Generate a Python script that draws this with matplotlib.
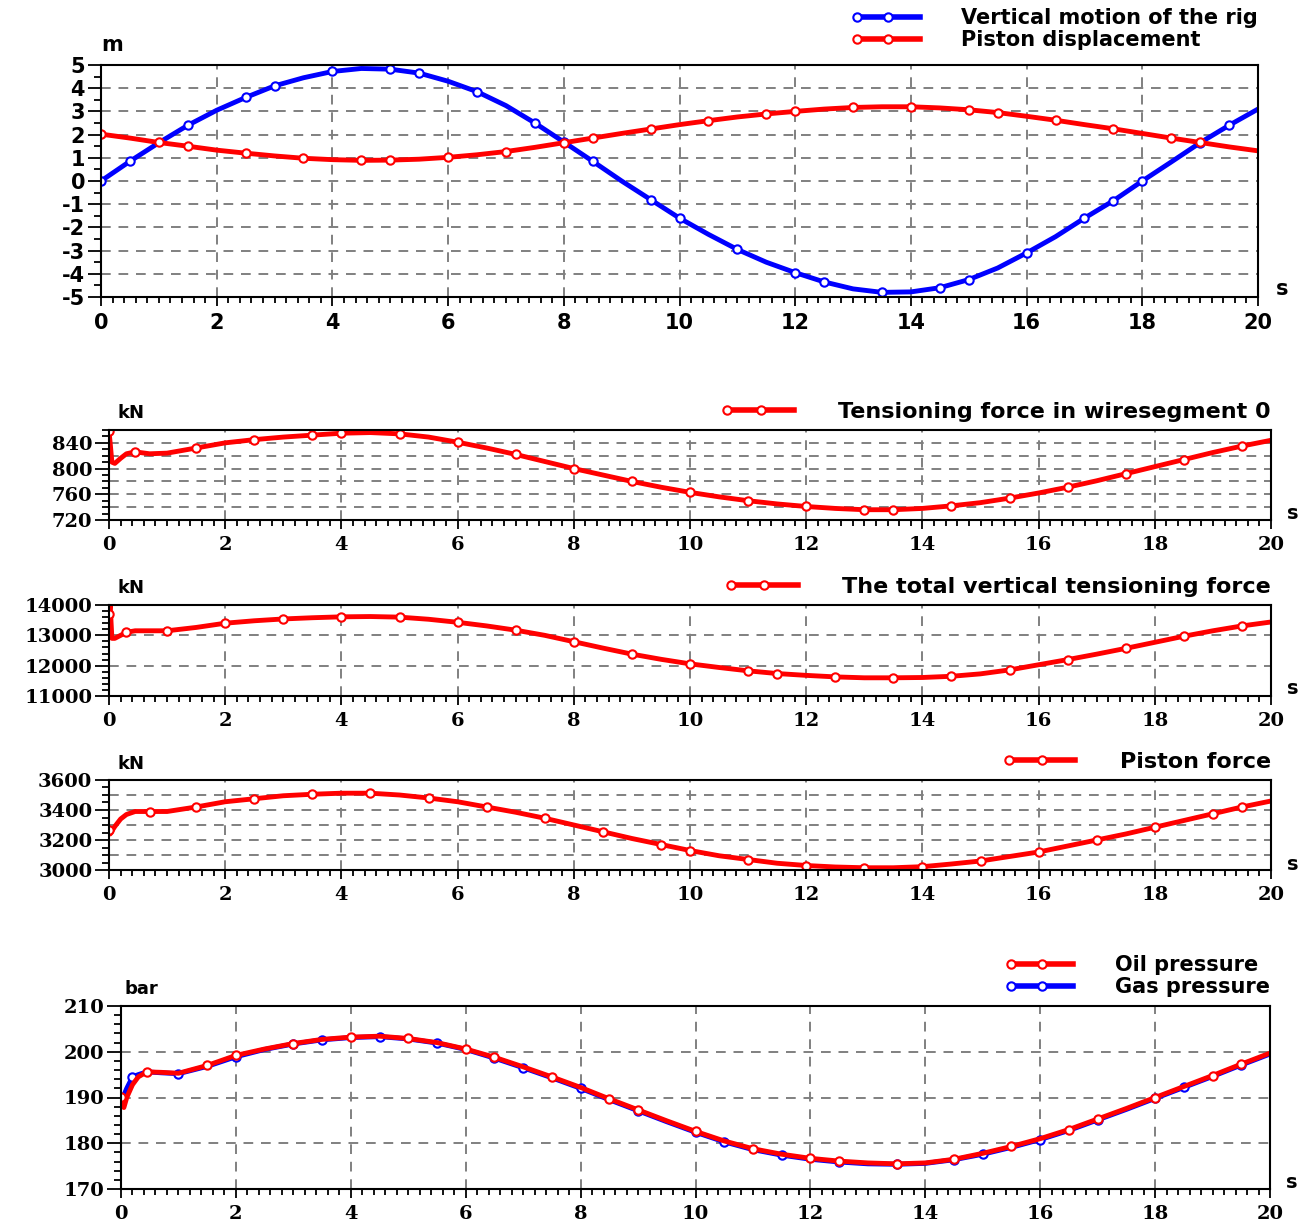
import numpy as np
import matplotlib
matplotlib.use("Agg")
import matplotlib.pyplot as plt
from matplotlib.lines import Line2D
from matplotlib.legend_handler import HandlerLine2D
from matplotlib.ticker import MultipleLocator

plt.rcParams["font.family"] = "DejaVu Sans"
plt.rcParams["font.weight"] = "bold"
plt.rcParams["axes.unicode_minus"] = False

# ---- top panel: rig motion / piston displacement (m) ----
t_rig = [0.0, 0.5, 1.0, 1.5, 2.0, 2.5, 3.0, 3.5, 4.0, 4.5, 5.0, 5.5, 6.0, 6.5,
         7.0, 7.5, 8.0, 8.5, 9.0, 9.5, 10.0, 10.5, 11.0, 11.5, 12.0, 12.5, 13.0,
         13.5, 14.0, 14.5, 15.0, 15.5, 16.0, 16.5, 17.0, 17.5, 18.0, 18.5, 19.0,
         19.5, 20.0]
rig_motion = [0.0, 0.85, 1.65, 2.4, 3.05, 3.6, 4.1, 4.45, 4.72, 4.85, 4.82, 4.65,
              4.3, 3.85, 3.25, 2.5, 1.68, 0.85, 0.0, -0.8, -1.6, -2.3, -2.95, -3.5,
              -3.95, -4.35, -4.65, -4.8, -4.78, -4.6, -4.25, -3.75, -3.1, -2.4, -1.6,
              -0.85, 0.0, 0.82, 1.65, 2.4, 3.1]
piston_disp = [2.02, 1.85, 1.66, 1.5, 1.33, 1.2, 1.08, 0.98, 0.92, 0.89, 0.9, 0.94,
               1.02, 1.13, 1.27, 1.45, 1.65, 1.85, 2.05, 2.24, 2.43, 2.6, 2.76, 2.89,
               3.0, 3.1, 3.17, 3.2, 3.2, 3.15, 3.07, 2.95, 2.79, 2.62, 2.43, 2.25,
               2.05, 1.85, 1.66, 1.47, 1.3]

# ---- lower panels share one time base (finer at the start transient) ----
t_sim = [0.0, 0.02, 0.05, 0.1, 0.2, 0.3, 0.45, 0.7, 1.0, 1.5, 2.0, 2.5, 3.0, 3.5,
         4.0, 4.5, 5.0, 5.5, 6.0, 6.5, 7.0, 7.5, 8.0, 8.5, 9.0, 9.5, 10.0, 10.5,
         11.0, 11.5, 12.0, 12.5, 13.0, 13.5, 14.0, 14.5, 15.0, 15.5, 16.0, 16.5,
         17.0, 17.5, 18.0, 18.5, 19.0, 19.5, 20.0]
wire_tension = [858, 840, 810, 808, 816, 823, 826, 823, 824, 832, 840, 845, 849, 852,
                855, 856, 854, 849, 841, 832, 822, 811, 800, 790, 780, 771, 763, 756,
                750, 745, 741, 738, 736, 736, 738, 742, 747, 754, 762, 771, 781, 792,
                803, 814, 825, 835, 844]
total_tension = [13700, 14000, 12900, 12900, 13000, 13100, 13150, 13150, 13150,
                 13260, 13400, 13480, 13540, 13580, 13610, 13620, 13600, 13530,
                 13430, 13310, 13170, 13000, 12790, 12580, 12380, 12210, 12060,
                 11940, 11830, 11740, 11680, 11630, 11600, 11600, 11610, 11650,
                 11730, 11860, 12030, 12200, 12380, 12570, 12770, 12970, 13150,
                 13310, 13440]
piston_force = [3270, 3240, 3260, 3290, 3340, 3370, 3390, 3390, 3390, 3420, 3455,
                3475, 3495, 3505, 3512, 3512, 3500, 3480, 3455, 3420, 3385, 3345,
                3300, 3255, 3210, 3170, 3130, 3095, 3070, 3045, 3030, 3020, 3015,
                3015, 3022, 3040, 3060, 3090, 3120, 3160, 3200, 3240, 3285, 3330,
                3375, 3420, 3460]
oil_pressure = [190.2, 188.5, 187.8, 190.0, 192.8, 194.5, 195.6, 195.5, 195.3, 197.0,
                199.2, 200.6, 201.8, 202.7, 203.2, 203.4, 202.9, 202.0, 200.6, 198.8,
                196.7, 194.5, 192.2, 189.7, 187.3, 184.9, 182.6, 180.5, 178.8, 177.6,
                176.7, 176.1, 175.7, 175.5, 175.7, 176.5, 177.8, 179.3, 181.0, 183.0,
                185.3, 187.6, 190.0, 192.4, 194.8, 197.3, 199.7]
gas_pressure = [189.0, 190.2, 190.5, 192.0, 194.5, 195.0, 195.6, 195.4, 195.2, 196.8,
                198.9, 200.5, 201.7, 202.6, 203.1, 203.3, 202.8, 201.9, 200.5, 198.6,
                196.5, 194.3, 192.0, 189.5, 187.1, 184.7, 182.4, 180.3, 178.6, 177.4,
                176.5, 175.9, 175.5, 175.4, 175.6, 176.4, 177.6, 179.1, 180.8, 182.8,
                185.1, 187.4, 189.8, 192.2, 194.6, 197.1, 199.5]

W, H = 1314, 1222
fig = plt.figure(figsize=(W / 100, H / 100), dpi=100)


def px(x, y):
    return x / W, 1 - y / H


def add_ax(left, top, right, bottom):
    return fig.add_axes([left / W, 1 - bottom / H, (right - left) / W, (bottom - top) / H])


def setup(ax, ylim, ymajor, yminor, ygrid, family, size, ylen):
    ax.set_xlim(0, 20)
    ax.set_ylim(*ylim)
    ax.xaxis.set_major_locator(MultipleLocator(2))
    ax.xaxis.set_minor_locator(MultipleLocator(0.2))
    ax.yaxis.set_major_locator(MultipleLocator(ymajor))
    ax.yaxis.set_minor_locator(MultipleLocator(yminor))
    ax.tick_params(which="both", direction="out", width=1.3, labelsize=size,
                   labelfontfamily=family)
    ax.tick_params(axis="x", which="major", length=6.5, pad=5)
    ax.tick_params(axis="x", which="minor", length=4)
    ax.tick_params(axis="y", which="major", length=ylen, pad=2)
    ax.tick_params(axis="y", which="minor", length=ylen / 2)
    for s in ax.spines.values():
        s.set_linewidth(1.5)
        s.set_color("black")
    for x in range(2, 20, 2):
        ax.axvline(x, color="#808080", ls=(0, (5, 4)), lw=1.4, zorder=0)
    for y in np.arange(ylim[0] + ygrid, ylim[1] - ygrid / 2, ygrid):
        ax.axhline(y, color="#808080", ls=(0, (5, 4)), lw=1.4, zorder=0)


class TwoMarkers(HandlerLine2D):
    # marker at the left end and in the middle of the sample line
    def create_artists(self, *args, **kwargs):
        arts = super().create_artists(*args, **kwargs)
        for a in arts:
            a.set_markevery([0, 1])
        return arts


def handle(color):
    return Line2D([], [], color=color, lw=4, marker="o", ms=6, mfc="white",
                  mec=color, mew=1.5)


def draw(ax, t, y, color, every=0.045):
    ax.plot(t, y, color=color, lw=3.5, marker="o", ms=6, mfc="white", mec=color,
            mew=1.5, markevery=every)


def legend(ax, handles, labels, anchor, size):
    ax.legend(handles, labels, loc="lower right", frameon=False, numpoints=3,
              borderpad=0, borderaxespad=0, labelspacing=0.1,
              bbox_to_anchor=px(*anchor), bbox_transform=fig.transFigure,
              handlelength=3.6, handletextpad=1.7,
              handler_map={Line2D: TwoMarkers()},
              prop=dict(family="DejaVu Sans", weight="bold", size=size))


# panel 1
ax1 = add_ax(101, 65, 1258, 297)
setup(ax1, (-5, 5), 1, 0.5, 1, "DejaVu Sans", 15, 9.5)
draw(ax1, t_rig, rig_motion, "blue", 0.043)
draw(ax1, t_rig, piston_disp, "red", 0.043)
legend(ax1, [handle("blue"), handle("red")],
       ["Vertical motion of the rig", "Piston displacement"], (1258, 50), 15)
fig.text(*px(112, 45), "m", ha="center", va="center", fontsize=15)
fig.text(*px(1282, 289), "s", ha="center", va="center", fontsize=15)

# panel 2
ax2 = add_ax(109, 430, 1271, 520)
setup(ax2, (720, 860), 40, 10, 20, "DejaVu Serif", 14, 10)
draw(ax2, t_sim, wire_tension, "red", 0.048)
legend(ax2, [handle("red")], ["Tensioning force in wiresegment 0"], (1271, 422), 16)
fig.text(*px(131, 413), "kN", ha="center", va="center", fontsize=13)
fig.text(*px(1293, 514), "s", ha="center", va="center", fontsize=14)

# panel 3
ax3 = add_ax(109, 605, 1271, 696)
setup(ax3, (11000, 14000), 1000, 200, 1000, "DejaVu Serif", 14, 10)
draw(ax3, t_sim, total_tension, "red", 0.048)
legend(ax3, [handle("red")], ["The total vertical tensioning force"], (1271, 597), 16)
fig.text(*px(131, 588), "kN", ha="center", va="center", fontsize=13)
fig.text(*px(1293, 689), "s", ha="center", va="center", fontsize=14)

# panel 4
ax4 = add_ax(109, 780, 1271, 870)
setup(ax4, (3000, 3600), 200, 50, 100, "DejaVu Serif", 14, 10)
draw(ax4, t_sim, piston_force, "red", 0.048)
legend(ax4, [handle("red")], ["Piston force"], (1271, 772), 16)
fig.text(*px(131, 764), "kN", ha="center", va="center", fontsize=13)
fig.text(*px(1293, 864), "s", ha="center", va="center", fontsize=14)

# panel 5
ax5 = add_ax(121, 1006, 1270, 1189)
setup(ax5, (170, 210), 10, 2, 10, "DejaVu Serif", 14, 10)
draw(ax5, t_sim, gas_pressure, "blue", (0.02, 0.045))
draw(ax5, t_sim, oil_pressure, "red", 0.045)
legend(ax5, [handle("red"), handle("blue")], ["Oil pressure", "Gas pressure"],
       (1270, 997), 15)
fig.text(*px(141, 989), "bar", ha="center", va="center", fontsize=13)
fig.text(*px(1292, 1182), "s", ha="center", va="center", fontsize=14)

fig.savefig("out.png", dpi=100)
